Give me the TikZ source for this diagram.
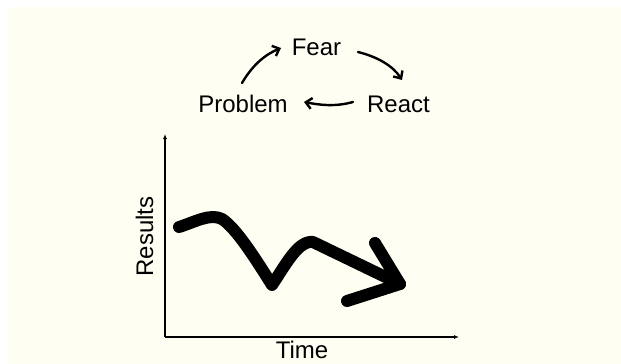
\documentclass[tikz,border=0pt]{standalone}
\usepackage{fontspec}
\setmainfont{Liberation Sans}
\usetikzlibrary{arrows.meta}
\definecolor{cream}{HTML}{FFFEF2}
\begin{document}
\begin{tikzpicture}[x=1pt,y=-1pt,
  lbl/.style={font=\fontsize{24}{28}\selectfont, inner sep=0pt, anchor=base, text=black},
  cyc/.style={line width=2.4pt, -{Straight Barb[length=6pt,width=11pt,line width=2.4pt]}, line cap=round},
  axis/.style={line width=1.1pt, -{Latex[length=5pt,width=4pt]}},
  trend/.style={line width=12pt, line cap=round, line join=round}]
\useasboundingbox (0,0) rectangle (621,364);
\fill[white] (0,0) rectangle (621,364);
\fill[cream] (8,7) rectangle (621,364);
% cycle
\node[lbl] (F) at (316.5,55) {Fear};
\node[lbl] (P) at (243,112) {Problem};
\node[lbl] (R) at (398.5,112) {React};
\coordinate (pf1) at (242,83);
\coordinate (pf2) at (281,48);
\coordinate (fr1) at (358,52);
\coordinate (fr2) at (402,80);
\coordinate (rp1) at (353,102);
\coordinate (rp2) at (304,102);
\draw[cyc] (pf1) .. controls (252,66) and (264,55) .. (pf2);
\draw[cyc] (fr1) .. controls (378,57) and (393,66) .. (fr2);
\draw[cyc] (rp1) .. controls (335,107) and (320,105) .. (rp2);
% axes
\coordinate (O) at (165,337);
\coordinate (Y) at (165,134);
\coordinate (X) at (459,337);
\draw[axis] (O) -- (Y);
\draw[axis] (O) -- (X);
\node[lbl, rotate=90] (Res) at (153,236.5) {Results};
\node[lbl] (T) at (302,358.5) {Time};
% trend arrow
\coordinate (s) at (179,227);
\coordinate (b) at (272,285);
\coordinate (tip) at (400,284);
\draw[trend] (s) .. controls (195,222) and (210,213) .. (222,219)
  .. controls (236,228) and (255,258) .. (b)
  .. controls (285,266) and (298,240) .. (313,242) -- (tip);
\draw[trend] (375,243) -- (tip) -- (347,301);
\end{tikzpicture}
\end{document}
